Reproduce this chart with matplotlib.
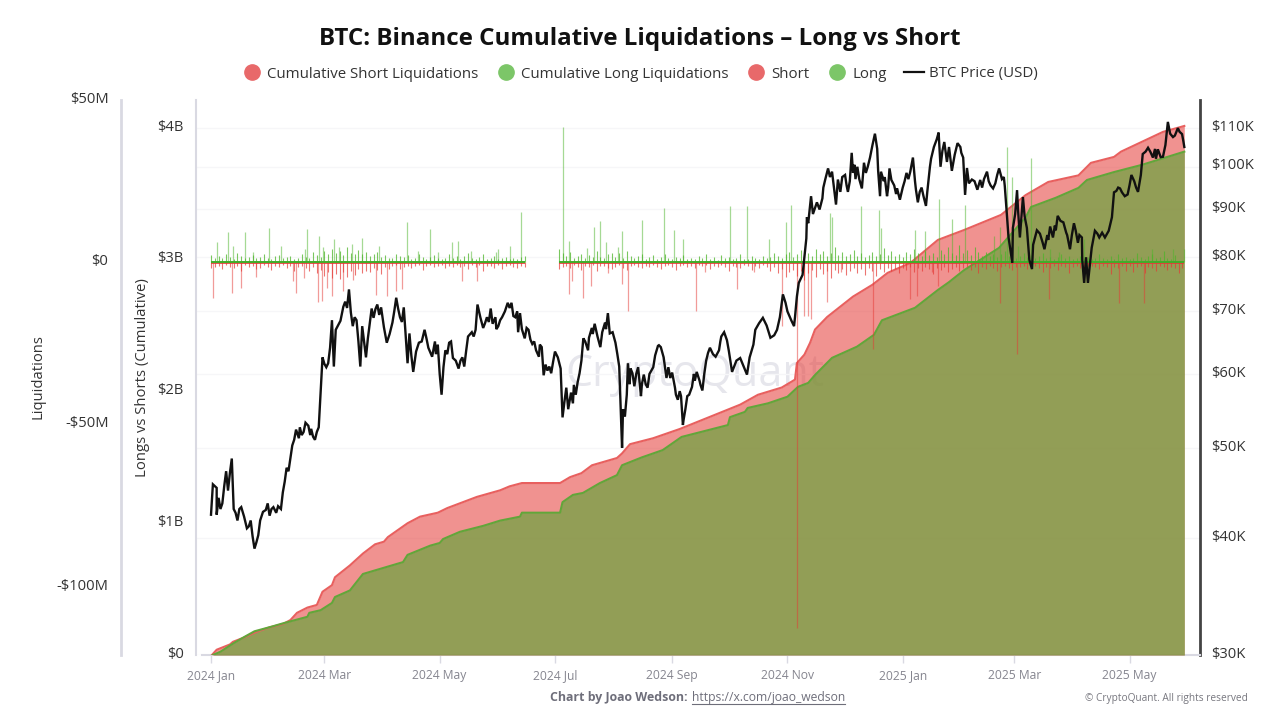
import numpy as np
import matplotlib
matplotlib.use('Agg')
from matplotlib import pyplot as plt
from matplotlib.lines import Line2D
from matplotlib.transforms import ScaledTranslation

plt.rcParams['font.family'] = ['Open Sans', 'DejaVu Sans']

# all x values are days since 2024-01-01
tick_days = [0, 60, 121, 182, 244, 305, 366, 425, 486]
tick_names = ['2024 Jan', '2024 Mar', '2024 May', '2024 Jul', '2024 Sep', '2024 Nov', '2025 Jan', '2025 Mar', '2025 May']

# cumulative liquidations, billions USD
short_days = [0.5, 3, 10, 11.6, 17, 24, 31, 38, 42, 45.5, 51, 56, 59, 64, 65.6, 73.5, 80.4, 86.8, 91.5, 93.6, 104, 110.6, 120, 125, 140.7, 153, 158, 164.5, 184.7, 190, 196, 201.6, 214.8, 217.5, 221.7, 233.9, 248, 280, 289.4, 302, 309, 310, 314, 317, 319.6, 326, 339.7, 350, 358, 370, 384.6, 398.4, 418, 431, 443, 459, 465.6, 477.8, 481.5, 492.6, 503.7, 515]
short_cum = [0, .04, .08, .10, .13, .175, .21, .235, .265, .32, .36, .38, .48, .53, .59, .68, .77, .84, .86, .895, 1.0, 1.05, 1.08, 1.115, 1.20, 1.25, 1.28, 1.305, 1.305, 1.35, 1.38, 1.44, 1.495, 1.53, 1.60, 1.645, 1.715, 1.90, 1.975, 2.03, 2.09, 2.215, 2.28, 2.37, 2.47, 2.565, 2.72, 2.81, 2.90, 2.975, 3.15, 3.225, 3.34, 3.49, 3.59, 3.64, 3.735, 3.78, 3.82, 3.895, 3.97, 4.015]
long_days = [1, 5, 12, 18, 23, 32, 38, 51, 52, 58, 64, 65.6, 73.5, 80.4, 91, 101.6, 104, 116, 121, 122.8, 131.7, 144, 153, 163.5, 164.5, 184.7, 186, 191.5, 196.8, 205.8, 214.8, 217.5, 228, 239, 249, 273.5, 274.6, 282.5, 284, 294.7, 305, 310.6, 316, 319.6, 328.6, 341.8, 350.8, 355, 372.5, 384.6, 390.5, 398.4, 417, 420.6, 431, 433.9, 447, 459, 463.5, 477.8, 492.6, 515]
long_cum = [0, .025, .09, .14, .18, .215, .24, .29, .32, .34, .395, .44, .49, .615, .66, .705, .76, .83, .85, .88, .935, .98, 1.02, 1.05, 1.08, 1.08, 1.16, 1.215, 1.23, 1.305, 1.365, 1.44, 1.50, 1.555, 1.655, 1.745, 1.805, 1.845, 1.875, 1.91, 1.96, 2.035, 2.065, 2.125, 2.255, 2.34, 2.43, 2.54, 2.635, 2.77, 2.83, 2.92, 3.09, 3.15, 3.32, 3.40, 3.47, 3.545, 3.605, 3.665, 3.72, 3.82]

# liquidation spikes, millions USD
long_spike_days = [3, 9, 11.6, 18, 22, 30.7, 37, 49.7, 50.8, 57, 59, 65, 67.7, 74.6, 80, 88.9, 103.7, 109.5, 115.9, 120, 127.5, 130.7, 137.6, 150.8, 151.9, 158, 164, 186.2, 189.4, 199, 202.6, 205.8, 209, 215.3, 217.5, 228, 239.7, 245, 249.7, 274.6, 283.6, 295, 304, 306.9, 327.5, 328.6, 343.9, 353.4, 354.5, 372.5, 377.8, 385, 392, 399, 414.3, 417.5, 421, 423.8, 427, 433.9, 444, 448.7, 462, 498, 509, 515]
long_spikes = [6.1, 9.2, 4.9, 9.2, 3.1, 10.7, 4.9, 4, 10.4, 8, 4.6, 7.1, 4.6, 5.5, 7.4, 4.9, 12.3, 3.4, 10.4, 3.1, 6.1, 6.7, 3.4, 3.1, 4, 4.9, 15.6, 41.7, 6.7, 4.3, 11, 12.6, 6.4, 4.6, 9.5, 12.9, 16.6, 10.1, 7.1, 17.2, 17.2, 7.1, 12.3, 17.8, 15.3, 13.8, 17.2, 16, 10.7, 10.1, 9.5, 19.6, 13.2, 17.5, 8, 11, 35.6, 26.4, 4.9, 32.2, 4, 3.1, 7.1, 4, 4, 4]
short_spike_days = [1, 11, 15.9, 24, 43.4, 45, 49, 56.6, 58.7, 61.4, 64, 69.8, 75, 87.3, 93, 97.9, 101, 132.8, 140.7, 189.4, 191, 196.8, 201, 210, 217.5, 220.6, 256.6, 261.4, 278.3, 287.3, 302, 310, 313.8, 315.9, 317.5, 325.9, 333.3, 350.3, 369.8, 373.5, 381.5, 384.6, 417.5, 426.5, 443.4, 480.4, 493.7]
short_spikes = [11, 9.5, 8, 4.6, 5.8, 9.5, 4.9, 12.3, 12, 8, 10.4, 8.9, 5.5, 10.1, 10.4, 8.9, 8.3, 5.8, 5.8, 9.8, 5.8, 11, 7.4, 3.4, 6.7, 15, 15, 3.1, 8.3, 3.1, 19.6, 112.6, 16.6, 16.6, 17.5, 12.3, 3.1, 26.7, 11.3, 10.4, 3.1, 7.4, 12.6, 28.2, 11.3, 12.6, 12.6]

# everyday liquidations, one value per two days, millions USD
long_grass_a = [2.1, 1.4, 1.8, 1.2, 2.4, 1.6, 1.1, 2.8, 1.9, 1.3, 1.7, 2.2, 1.2, 1.5, 2.6, 1.4, 1.1, 1.8, 2.3, 1.2, 1.6, 2.0, 1.1, 1.4, 2.5, 1.7, 1.3, 3.1, 2.2, 1.6, 3.6, 2.4, 4.2, 2.9, 3.4, 2.1, 4.8, 3.0, 2.4, 3.8, 2.6, 3.3, 1.9, 2.4, 3.1, 1.6, 2.2, 1.4, 1.2, 2.7, 1.9, 1.5, 2.2, 1.1, 1.3, 2.4, 1.7, 1.0, 1.6, 2.3, 1.2, 0.9, 1.4, 2.6, 1.3, 1.8, 1.0, 1.9, 2.8, 1.2, 0.9, 1.5, 2.4, 1.1, 1.3, 2.0, 1.0, 1.2, 1.7, 0.9, 1.4, 1.1, 1.6, 1.8]
short_grass_a = [1.9, 1.6, 1.1, 2.2, 0.9, 1.4, 1.8, 1.2, 2.6, 0.8, 1.5, 1.1, 2.1, 1.7, 0.9, 1.3, 2.4, 1.0, 1.6, 0.8, 1.9, 1.2, 2.8, 1.5, 1.1, 1.8, 2.6, 1.3, 3.2, 2.4, 4.1, 3.0, 4.8, 3.6, 5.2, 3.1, 4.4, 2.7, 3.8, 2.2, 3.4, 2.6, 3.0, 1.8, 2.5, 3.6, 1.6, 2.2, 1.2, 0.9, 2.1, 1.4, 1.0, 1.8, 1.2, 0.8, 2.4, 1.1, 0.9, 1.5, 1.2, 0.7, 1.9, 1.0, 1.3, 0.8, 1.6, 1.1, 2.2, 0.9, 1.4, 0.8, 2.6, 1.0, 1.2, 1.7, 0.9, 2.0, 1.1, 0.8, 1.5, 1.9, 1.0, 1.3]
long_grass_b = [4.2, 2.8, 1.9, 3.1, 1.4, 1.8, 2.6, 1.2, 2.2, 1.5, 3.4, 1.7, 1.2, 2.4, 3.0, 1.6, 2.8, 1.4, 3.6, 2.0, 1.3, 1.8, 2.4, 1.1, 1.5, 2.1, 1.0, 1.6, 2.7, 1.2, 0.9, 1.7, 1.2, 2.3, 1.0, 1.4, 0.9, 1.9, 1.2, 2.6, 1.0, 1.5, 0.8, 2.1, 1.3, 1.6, 0.9, 1.2, 2.4, 1.1, 0.9, 1.8, 1.3, 1.0, 2.0, 1.2, 1.6, 2.8, 1.9, 1.4, 2.4, 3.1, 1.7, 2.6, 3.8, 2.2, 3.0, 2.0, 4.2, 2.4, 3.4, 1.8, 2.9, 4.6, 2.1, 3.2, 1.9, 2.6, 3.7, 2.0, 2.8, 1.6, 2.3, 3.3, 1.8, 2.5, 4.4, 2.2, 3.6, 1.9, 2.7, 1.6, 3.2, 2.4, 4.0, 2.8, 1.9, 3.4, 2.2, 2.9, 1.7, 3.8, 2.5, 4.6, 3.0, 2.2, 5.2, 2.8, 3.9, 2.3, 4.8, 3.1, 2.0, 3.3, 1.9, 2.7, 1.5, 2.4, 3.4, 1.8, 2.2, 1.3, 1.9, 3.0, 1.6, 2.1, 1.2, 1.8, 2.8, 1.3, 1.7, 1.0, 1.5, 2.4, 1.2, 1.8, 1.0, 1.4, 2.0, 1.1, 1.6, 0.9, 1.3, 2.6, 1.4, 1.1, 1.9, 1.0, 2.4, 1.2, 1.6, 0.9, 1.3, 3.0, 1.5, 1.0, 1.8, 2.6, 1.2, 1.5, 3.4, 1.4, 1.0, 2.2]
short_grass_b = [2.2, 1.6, 1.0, 1.9, 0.8, 1.3, 2.4, 1.1, 1.6, 0.9, 2.8, 1.2, 1.0, 1.7, 2.2, 1.3, 0.9, 1.8, 2.5, 1.1, 0.8, 1.4, 1.9, 1.0, 1.3, 0.8, 1.6, 2.1, 1.0, 0.9, 1.5, 2.4, 1.1, 0.7, 1.3, 1.0, 1.8, 0.8, 1.2, 0.9, 2.2, 1.1, 1.5, 0.8, 1.4, 2.6, 1.0, 1.3, 1.9, 0.9, 1.2, 2.4, 1.1, 1.7, 0.9, 1.4, 2.8, 1.6, 3.4, 2.2, 4.6, 3.0, 2.4, 4.2, 2.8, 5.4, 3.2, 2.5, 4.4, 2.1, 3.6, 2.7, 4.9, 2.4, 3.3, 2.0, 4.0, 2.6, 1.9, 3.2, 2.2, 3.8, 1.8, 2.6, 4.2, 2.0, 3.0, 1.7, 2.8, 2.1, 3.4, 1.8, 2.4, 1.5, 3.1, 1.9, 2.6, 1.6, 2.2, 3.6, 1.7, 2.4, 1.4, 3.0, 2.0, 1.5, 2.7, 1.8, 1.3, 2.3, 1.6, 3.2, 1.4, 2.0, 1.2, 1.8, 2.6, 1.4, 1.1, 1.9, 2.4, 1.3, 1.6, 1.0, 2.2, 1.4, 1.0, 1.7, 3.0, 1.3, 1.8, 1.1, 2.4, 1.2, 1.6, 3.4, 1.5, 1.0, 1.8, 2.6, 1.2, 1.0, 1.6, 2.1, 1.1, 1.5, 3.6, 1.3, 1.9, 1.0, 2.6, 1.2, 3.0, 1.5, 1.1, 3.2, 1.4, 1.8, 2.8, 1.2, 1.6, 2.4, 1.3, 1.9, 3.4, 1.8]
grass_start_a = 0
grass_start_b = 184

# btc close, thousands USD: main turning points
price_days = [0, 1, 3, 3, 4, 6, 8, 9, 11, 12, 14, 16, 19, 21, 23, 25, 26, 30, 31, 33, 37, 38, 40, 42, 43, 45, 48, 50, 54, 57, 58, 59, 61, 62, 64, 65, 66, 69, 71, 73, 75, 77, 79, 80, 82, 85, 86, 88, 90, 93, 96, 98, 100, 102, 104, 105, 106, 107, 110, 113, 115, 117, 120, 122, 124, 126, 128, 131, 133, 134, 136, 140, 141, 144, 146, 148, 149, 152, 154, 157, 159, 160, 162, 162.5, 163.5, 166, 168, 170, 172, 175, 176, 177, 179, 180, 182, 185, 186, 188, 189, 190.5, 193, 195, 197, 199.5, 201.5, 203, 206, 208.5, 210, 211, 214, 216, 217.5, 218, 220, 220.6, 223, 224, 226, 227.5, 229, 231, 234, 236.5, 238, 241, 243, 245.5, 247, 248.7, 249.7, 250, 252, 254.5, 257, 260, 263, 265.6, 268.8, 270, 273, 275.7, 280, 283.6, 285, 288, 292, 296, 299.5, 302.6, 305, 308.5, 310, 311, 313, 315, 315.3, 316, 317.5, 318.5, 320.6, 322, 325, 326.5, 328.6, 330.7, 331.7, 335.5, 337, 339, 339.7, 342, 344.4, 345.5, 348.7, 351.3, 354, 354.5, 357.7, 359, 363, 364.5, 368, 370, 371.4, 374, 376, 378.3, 380.4, 382.5, 385, 386, 388, 389.4, 390.5, 392, 395, 398, 399, 400, 402.6, 408, 410.6, 413.8, 417, 420, 421, 422, 424, 424.3, 426.5, 428, 429.6, 431.7, 434.4, 436, 438.6, 441, 444, 445.5, 448, 451, 454.5, 456.6, 458.7, 460.8, 462, 463, 464, 466, 467.7, 470, 475, 476.7, 477.8, 480, 482, 485, 487, 490.5, 493, 495.8, 498.4, 501, 503.7, 506.3, 509, 511.6, 513.8, 515]
price_vals = [42.4, 45.7, 45.3, 42.4, 44.2, 43.6, 47.2, 45, 48.7, 43, 41.8, 43.2, 41, 41.8, 39, 40.3, 41.8, 43.6, 42.3, 43.2, 43, 44.8, 47.6, 48.7, 50.3, 52.3, 51.6, 53.2, 51.4, 52.6, 57.3, 62.5, 61, 61.6, 68.5, 61.1, 66.9, 69.2, 71.7, 73.9, 67.5, 68.5, 61.1, 67.5, 62.5, 70.5, 68.9, 71.2, 70.7, 64.8, 68.1, 72.4, 69, 70.7, 61.6, 66.3, 62.8, 60.3, 64.8, 66.9, 64, 62.6, 64.5, 57, 63.6, 64.8, 62.4, 60.8, 62.5, 61.1, 65.8, 66.9, 71.2, 67.2, 69, 70.5, 67.9, 67.5, 69, 71.5, 71.5, 69.2, 70, 66.5, 69.7, 65.5, 66.9, 64.6, 63.6, 64.1, 59.8, 61.4, 61.1, 60.1, 63.4, 60.8, 53.9, 58, 55, 57.3, 57, 60.1, 65.5, 63.6, 67.2, 67.9, 64.1, 68.1, 69.7, 66.3, 64.8, 61.1, 50, 55, 57, 61.6, 60.1, 58.2, 61, 56.8, 59.9, 58, 61, 64.3, 64.1, 59.4, 59.4, 58, 56.3, 56.8, 52.9, 53.5, 56.8, 58.1, 60.3, 57.6, 63.2, 63, 63.6, 65.8, 65.2, 60.3, 62.4, 59.9, 62.5, 66.9, 68.9, 65.6, 66.9, 73, 70, 67.5, 72.6, 75.1, 76.6, 83.8, 88.3, 87, 93, 89, 91.6, 90, 96.9, 99.6, 98.8, 91.1, 96.9, 98, 94, 103.5, 98.5, 100, 94.8, 101, 102.3, 108.5, 93, 98.8, 93, 99.6, 94.8, 92.2, 98.5, 98.8, 102.3, 91.6, 95, 90.8, 100, 105, 108.8, 100, 106.3, 101.2, 105, 99, 106, 102.3, 93.3, 99.7, 96.9, 95, 98.8, 94.8, 99.6, 95.4, 89.4, 84, 78.9, 86, 94.4, 84, 92.8, 86, 77.7, 84, 84.8, 81.6, 86.3, 84, 88.6, 87.2, 81.6, 87, 82.9, 84, 75.1, 80, 75.1, 81.9, 85.4, 84, 85.4, 88.3, 93.9, 95, 93.9, 93.4, 98, 94, 103.2, 104.8, 102.3, 104.4, 102.5, 111.7, 107.6, 110, 108.4, 105]
# smaller swings between those turning points
price_days_fine = [5, 7, 10, 13, 15, 17.5, 20, 22, 24, 27.5, 29, 32, 34.5, 35.5, 39, 41, 44, 46.5, 47, 49, 51.5, 52.5, 53, 55, 56, 60, 63, 67.5, 68.5, 70, 72, 74, 76, 78, 83, 84, 87, 89, 91.5, 94.5, 97, 99, 101, 103, 108.5, 111.5, 114, 116, 118.5, 119, 121, 123, 125, 127, 129.5, 132, 135, 138, 139, 142.5, 145, 147, 150.5, 151, 153, 155.5, 158, 161, 164.5, 167, 169, 171, 173.5, 174, 178, 181, 183.5, 187, 191.5, 192, 194, 196, 198, 200, 202, 204.5, 207, 209, 212.5, 215, 219, 221.5, 222, 225, 228, 230, 232, 235, 237, 239.5, 242, 244, 246, 248, 251, 253, 255.5, 256, 258.5, 259, 261, 262, 264, 267, 269.5, 271.5, 274, 278, 282, 287, 290, 294, 298, 301, 304, 307, 309, 323.5, 324, 327.5, 333, 334, 336.3, 338, 340.5, 341, 343, 346.5, 347.5, 350, 352.5, 353, 356, 356.5, 358.3, 360, 361.5, 362.5, 366, 367, 369, 372.5, 373, 375, 377, 379, 381, 384, 387, 393.5, 396.5, 397, 401, 404, 405.5, 407, 409, 411.5, 412.5, 415, 416, 418.5, 419.5, 425.5, 427, 430.5, 433, 435, 437, 440, 442.5, 443, 446.5, 447, 449.5, 452.5, 453, 455.5, 457.5, 459.5, 461, 465, 469, 471.5, 473, 479, 481, 483.5, 486, 488.5, 489.5, 492, 494.5, 497, 499.5, 500, 502.5, 505, 507.5, 510, 512.5, 514.5]
price_vals_fine = [43, 45.5, 47, 42.6, 43, 42.2, 41.2, 40.2, 39.6, 42.7, 42.9, 43, 42.6, 43.3, 46, 47.2, 51, 51.2, 52.6, 52, 52.8, 51.6, 52.4, 51, 52, 61.5, 64, 67.8, 68.4, 70.8, 70.6, 69.8, 69, 65, 65.5, 68, 70.4, 69.4, 67.3, 66.2, 70.1, 70.5, 68.2, 66, 63.4, 65, 65.5, 63.3, 65, 63, 60, 61, 63, 65, 62, 62, 63.5, 66.5, 65.8, 69, 68, 68.2, 69, 67, 68.5, 70, 70.6, 69, 67, 67.2, 65.3, 65, 62.6, 64.5, 60.5, 61.8, 62.5, 56, 55.8, 58.4, 58.8, 62, 65, 65.6, 66.2, 65.8, 66.5, 67, 66.5, 63, 54, 58.5, 60.8, 60, 58.5, 58.5, 60, 62.8, 64.4, 62.5, 61, 60.2, 57, 57.5, 55, 57, 60, 59, 59, 58.4, 60, 62, 64, 62.6, 65, 66.5, 63.5, 62, 61, 64.5, 68, 67.6, 66, 69, 71.5, 68.5, 69, 92.5, 95, 97.5, 94, 97.5, 95.5, 96.5, 100.5, 97, 97, 98.5, 100, 105.5, 104.5, 99, 96.5, 97.5, 95, 96.8, 95.5, 93.5, 95, 96.5, 97, 96.5, 94.5, 94, 93, 94, 102, 107, 104, 103, 105, 103.5, 96, 96.5, 94.5, 96.8, 97, 96.5, 95.5, 96, 98, 97, 97.5, 89, 90, 88.5, 79.5, 82.5, 85.5, 83, 84.5, 83.5, 86.5, 85.5, 87.5, 85, 84.5, 84.5, 85.5, 84.5, 79.5, 78.5, 84.8, 85, 84, 94.2, 94.8, 93, 95.5, 96.5, 95, 98, 103.8, 103.8, 104.5, 102, 102.4, 105.5, 108.5, 108, 109, 106.5]

price_ticks = [30000, 40000, 50000, 60000, 70000, 80000, 90000, 100000, 110000]
price_labels = ['$30K', '$40K', '$50K', '$60K', '$70K', '$80K', '$90K', '$100K', '$110K']
cum_ticks = [0, 1, 2, 3, 4]
cum_labels = ['$0', '$1B', '$2B', '$3B', '$4B']
liq_ticks = [-100, -50, 0, 50]
liq_labels = ['-$100M', '-$50M', '$0', '$50M']

RED = '#e53935'
GREEN = '#4db52a'
AXIS = '#d9d9e2'
TEXT = '#333333'


def grass_days(start, vals):
    return np.arange(len(vals)) * 2 + start


fig = plt.figure(figsize=(12.8, 7.2), dpi=100)
rect = [196 / 1280, 65 / 720, 1004 / 1280, 555 / 720]
xlim = (-7.94, 523.3)

# base axes: price scale, grid and watermark sit under everything
ax = fig.add_axes(rect, zorder=0)
ax.set_xlim(xlim)
ax.set_yscale('log')
ax.set_ylim(30000, 117900)
ax.set_yticks(price_ticks)
ax.set_yticklabels(price_labels)
ax.minorticks_off()
ax.yaxis.tick_right()
ax.tick_params(axis='y', length=0, pad=8, labelsize=10.6, labelcolor=TEXT)
ax.set_xticks(tick_days)
ax.set_xticklabels(tick_names)
ax.tick_params(axis='x', length=6, width=1, color=AXIS, labelsize=8.7, labelcolor='#85858f', pad=4)
ax.grid(axis='y', color='#f6f6f8', lw=1)
ax.set_axisbelow(True)
for s in ['top', 'left']:
    ax.spines[s].set_visible(False)
ax.spines['bottom'].set_color(AXIS)
ax.spines['bottom'].set_linewidth(1.5)
ax.spines['bottom'].set_bounds(-4.7, xlim[1])
ax.spines['right'].set_color('#444444')
ax.spines['right'].set_linewidth(2)
ax.text(0.497, 0.505, 'CryptoQuant', transform=ax.transAxes, ha='center', va='center',
        fontsize=31, color='#e6e6ec', zorder=0.5)

# cumulative axes
ax_cum = fig.add_axes(rect, zorder=1, sharex=ax)
ax_cum.patch.set_visible(False)
ax_cum.set_ylim(0, 4.212)
ax_cum.fill_between(short_days, short_cum, color=RED, alpha=0.55, lw=0)
ax_cum.plot(short_days, short_cum, color='#e8605f', lw=1.5)
ax_cum.fill_between(long_days, long_cum, color='#6ea340', alpha=0.72, lw=0)
ax_cum.plot(long_days, long_cum, color='#62a63a', lw=1.5)
ax_cum.set_yticks(cum_ticks)
ax_cum.set_yticklabels(cum_labels)
ax_cum.tick_params(axis='y', length=0, pad=9, labelsize=10.6, labelcolor=TEXT)
ax_cum.tick_params(axis='x', bottom=False, labelbottom=False)
for s in ['top', 'right', 'bottom']:
    ax_cum.spines[s].set_visible(False)
ax_cum.spines['left'].set_color(AXIS)
ax_cum.spines['left'].set_linewidth(1.5)

# liquidation bars
ax_liq = fig.add_axes(rect, zorder=2, sharex=ax)
ax_liq.patch.set_visible(False)
ax_liq.set_ylim(-121, 50)
ax_liq.vlines(grass_days(grass_start_a, short_grass_a), 0, -np.array(short_grass_a), color=RED, lw=0.8, alpha=0.7)
ax_liq.vlines(grass_days(grass_start_b, short_grass_b), 0, -np.array(short_grass_b), color=RED, lw=0.8, alpha=0.7)
ax_liq.vlines(grass_days(grass_start_a, long_grass_a), 0, long_grass_a, color=GREEN, lw=0.8, alpha=0.75)
ax_liq.vlines(grass_days(grass_start_b, long_grass_b), 0, long_grass_b, color=GREEN, lw=0.8, alpha=0.75)
ax_liq.vlines(long_spike_days, 0, long_spikes, color=GREEN, lw=0.9, alpha=0.5)
ax_liq.vlines(short_spike_days, 0, -np.array(short_spikes), color=RED, lw=0.9, alpha=0.5)
# solid band where the small bars merge at zero
band_ends = [(grass_days(grass_start_a, long_grass_a)[-1], grass_start_a), (515, grass_start_b)]
for end, start in band_ends:
    ax_liq.plot([start, end], [-0.35, -0.35], color=RED, lw=1.2, solid_capstyle='butt')
    ax_liq.plot([start, end], [0.15, 0.15], color='#3fae2a', lw=1.4, solid_capstyle='butt')
ax_liq.set_yticks(liq_ticks)
ax_liq.set_yticklabels(liq_labels)
ax_liq.tick_params(axis='y', length=0, pad=9, labelsize=10.6, labelcolor=TEXT)
ax_liq.tick_params(axis='x', bottom=False, labelbottom=False)
for s in ['top', 'right', 'bottom']:
    ax_liq.spines[s].set_visible(False)
ax_liq.spines['left'].set_position(('outward', 54))
ax_liq.spines['left'].set_color(AXIS)
ax_liq.spines['left'].set_linewidth(2)

# price line on top of everything
all_days = np.concatenate([price_days, price_days_fine])
all_vals = np.concatenate([price_vals, price_vals_fine]) * 1000
order = np.argsort(all_days, kind='stable')
ax_line = fig.add_axes(rect, zorder=3, sharex=ax)
ax_line.patch.set_visible(False)
ax_line.set_yscale('log')
ax_line.set_ylim(30000, 117900)
ax_line.plot(all_days[order], all_vals[order], color='#111111', lw=1.7, solid_joinstyle='miter')
ax_line.axis('off')

# tick labels in the reference sit a little above their tick
for a in [ax, ax_cum, ax_liq]:
    for lab in a.get_yticklabels():
        lab.set_transform(lab.get_transform() + ScaledTranslation(0, 2 / 72, fig.dpi_scale_trans))

fig.text(640 / 1280, 1 - 39 / 720, 'BTC: Binance Cumulative Liquidations – Long vs Short', ha='center', va='center',
         fontsize=17.4, fontweight='bold', color='#111111')
fig.text(38 / 1280, 1 - 377 / 720, 'Liquidations', rotation=90, ha='center', va='center', fontsize=10.6, color=TEXT)
fig.text(142 / 1280, 1 - 378 / 720, 'Longs vs Shorts (Cumulative)', rotation=90, ha='center', va='center', fontsize=10.7, color=TEXT)

handles = [
    Line2D([], [], ls='', marker='o', ms=11, color='#e8696a', label='Cumulative Short Liquidations'),
    Line2D([], [], ls='', marker='o', ms=11, color='#7cc668', label='Cumulative Long Liquidations'),
    Line2D([], [], ls='', marker='o', ms=11, color='#e8696a', label='Short'),
    Line2D([], [], ls='', marker='o', ms=11, color='#7cc668', label='Long'),
    Line2D([], [], color='#111111', lw=1.6, label='BTC Price (USD)'),
]
fig.legend(handles=handles, loc='center', bbox_to_anchor=(640 / 1280, 1 - 74 / 720), ncol=5, frameon=False,
           fontsize=10.8, labelcolor=TEXT, handlelength=1.3, handletextpad=0.35, columnspacing=1.2)

fig.text(550 / 1280, 1 - 697 / 720, 'Chart by Joao Wedson:', ha='left', va='center', fontsize=8.9,
         fontweight='bold', color='#6e6e7a')
fig.text(692 / 1280, 1 - 697 / 720, 'https://x.com/joao_wedson', ha='left', va='center', fontsize=8.75, color='#6e6e7a')
fig.add_artist(Line2D([692 / 1280, 845 / 1280], [1 - 704 / 720, 1 - 704 / 720], color='#6e6e7a', lw=0.8))
fig.text(1248 / 1280, 1 - 698 / 720, '© CryptoQuant. All rights reserved', ha='right', va='center', fontsize=7.25, color='#77777f')

plt.savefig('out.png', dpi=100)
